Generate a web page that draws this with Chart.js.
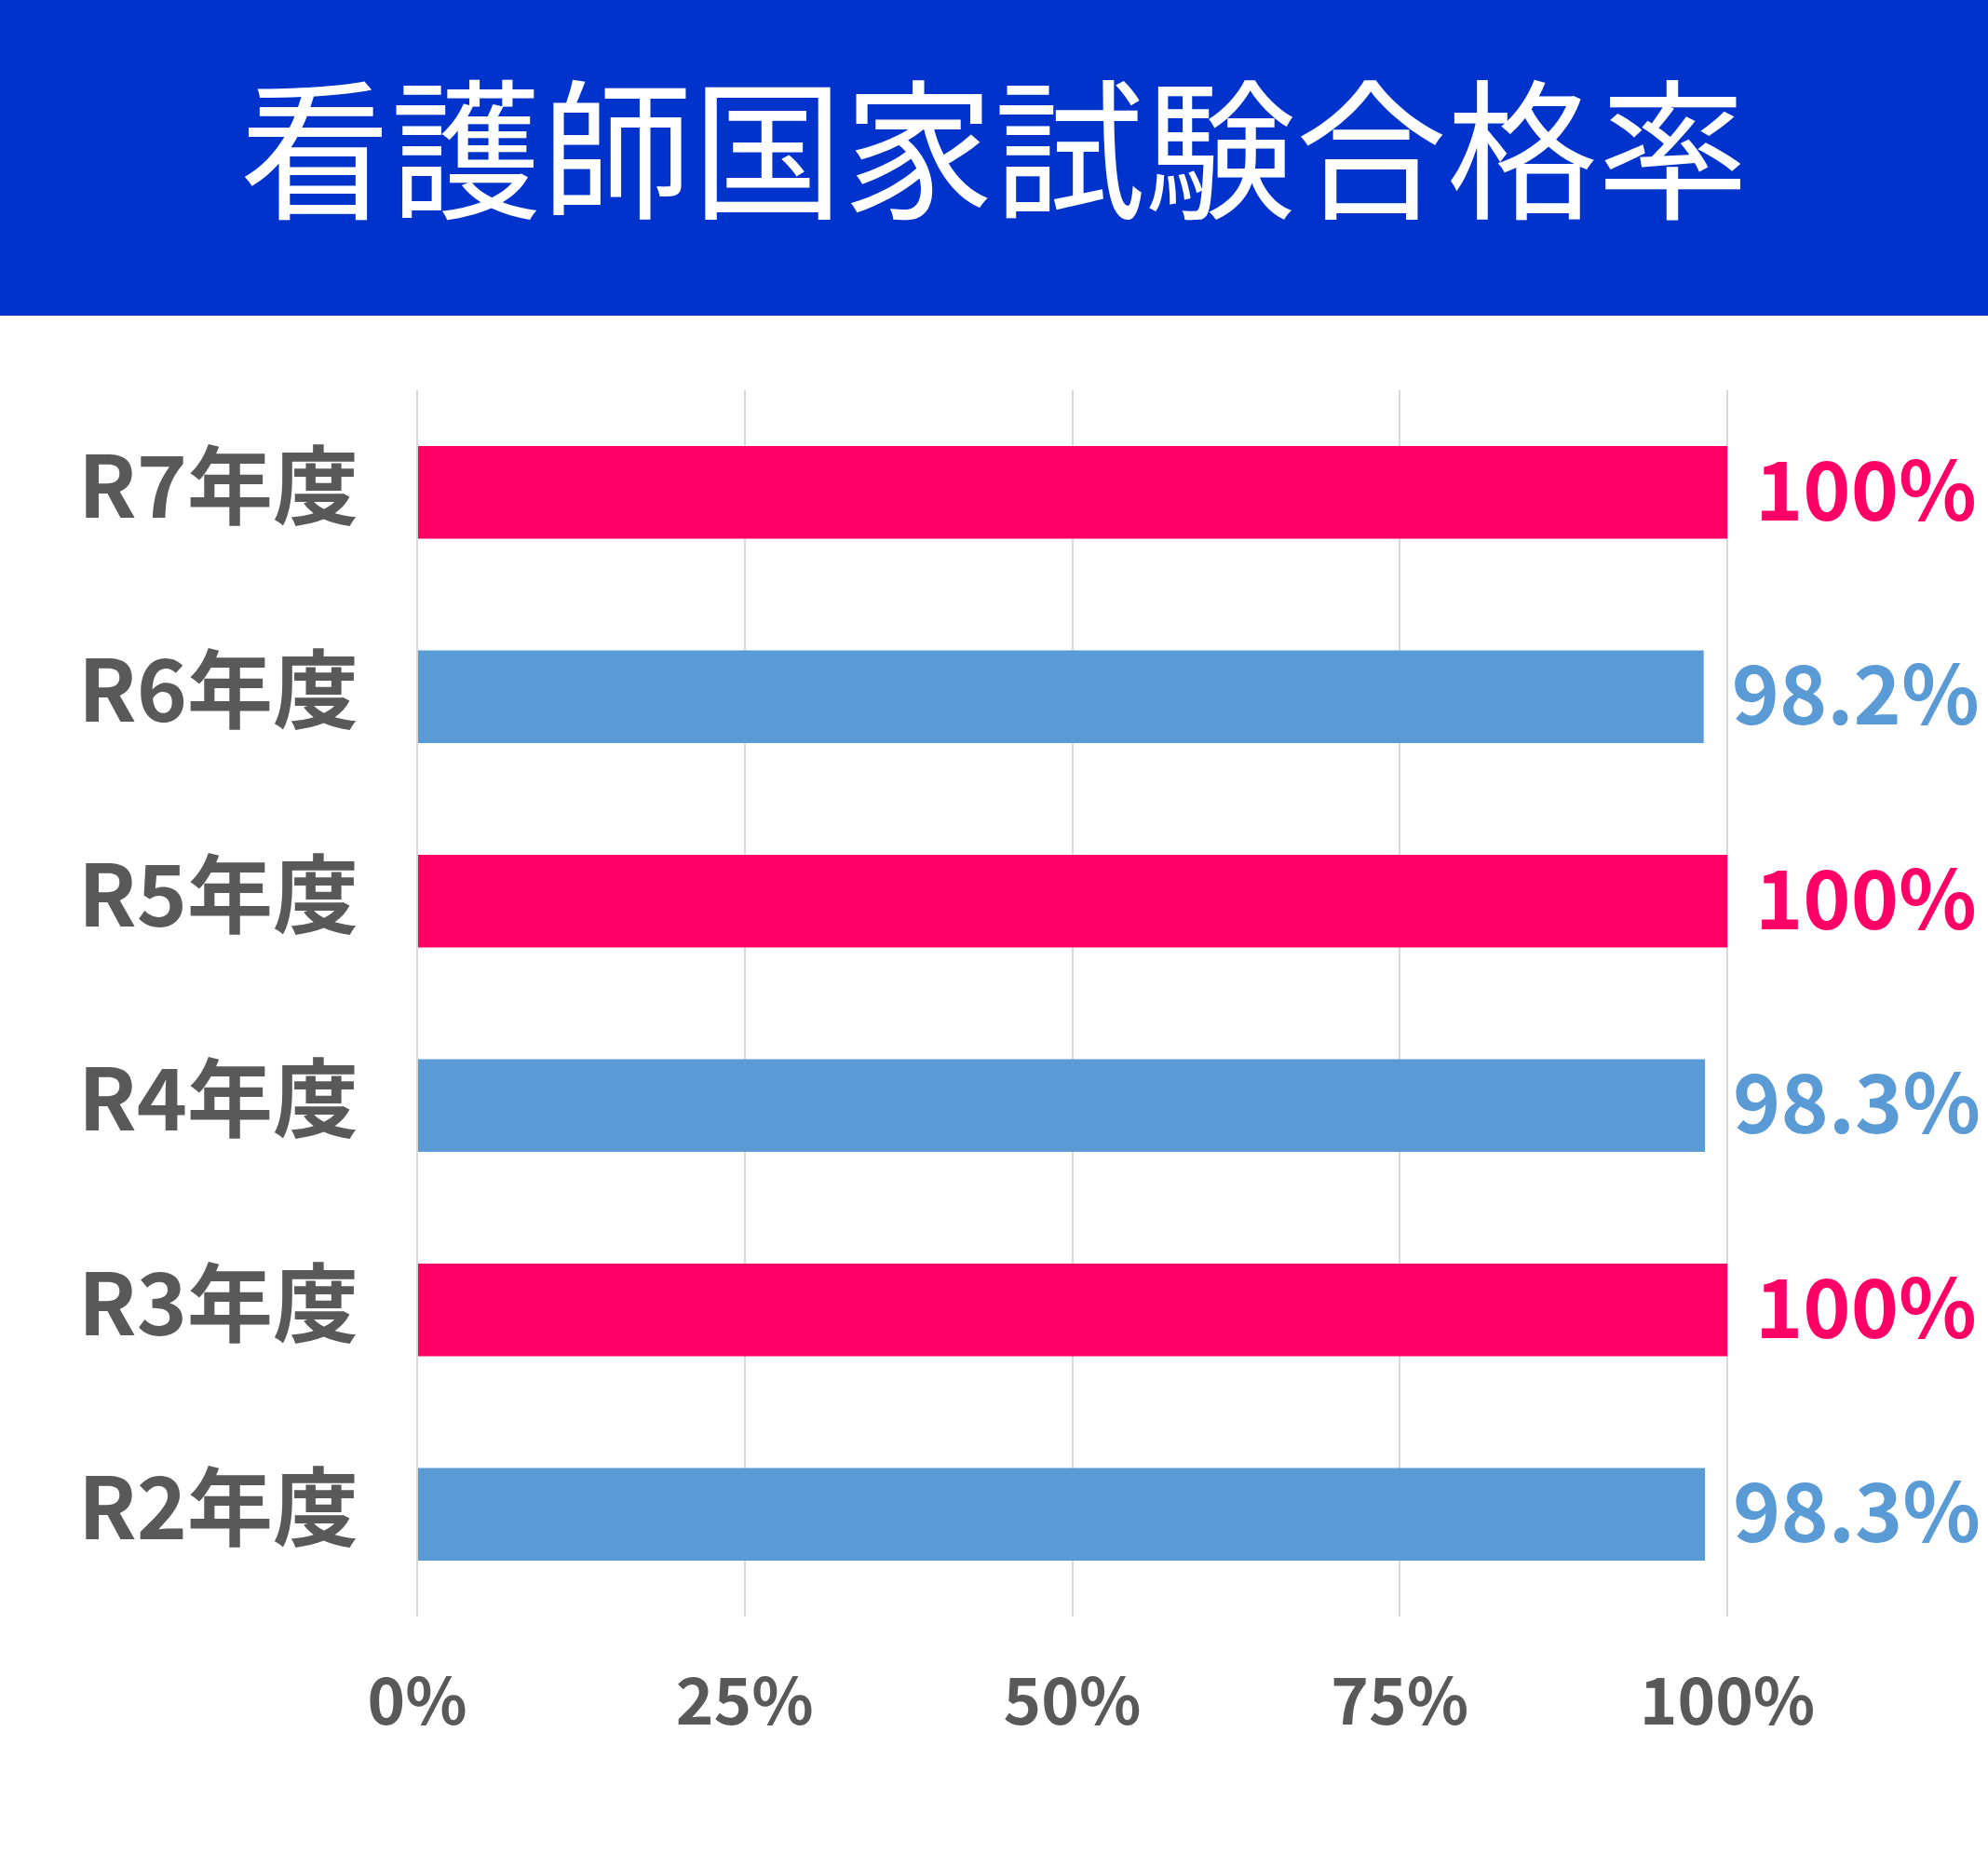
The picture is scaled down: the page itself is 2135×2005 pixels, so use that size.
<!DOCTYPE html>
<html><head><meta charset="utf-8">
<script src="https://cdn.jsdelivr.net/npm/chart.js@4"></script>
<style>
html,body{margin:0;padding:0;background:#fff;overflow:hidden;}
#hdr{width:2135px;height:339px;background:#0033CC;color:#fff;font-family:"Noto Sans CJK JP";font-size:162px;line-height:306px;text-align:center;white-space:nowrap;overflow:hidden;}
#wrap{width:2135px;height:1666px;}
canvas{display:block;}
</style></head><body>
<div id="hdr">看護師国家試験合格率</div>
<div id="wrap"><canvas id="c" width="2135" height="1666"></canvas></div>
<script>
const categories = ['R7年度','R6年度','R5年度','R4年度','R3年度','R2年度'];
const passRates = [100, 98.2, 100, 98.3, 100, 98.3];
const valueLabels = ['100%','98.2%','100%','98.3%','100%','98.3%'];
const tickLabels = ['0%','25%','50%','75%','100%'];
const barColors = ['#FF0066','#5B9BD5','#FF0066','#5B9BD5','#FF0066','#5B9BD5'];

const valueLabelPlugin = {
  id: 'valueLabels',
  afterDatasetsDraw(chart) {
    const ctx = chart.ctx;
    const meta = chart.getDatasetMeta(0);
    ctx.save();
    ctx.font = 'bold 87px "Noto Sans CJK JP"';
    ctx.textAlign = 'left';
    ctx.textBaseline = 'middle';
    meta.data.forEach((bar, i) => {
      ctx.fillStyle = barColors[i];
      ctx.fillText(valueLabels[i], bar.x + 30, bar.y - 3);
    });
    ctx.restore();
  }
};

new Chart(document.getElementById('c'), {
  type: 'bar',
  data: {
    labels: categories,
    datasets: [{
      data: passRates,
      backgroundColor: barColors,
      borderWidth: 0,
      categoryPercentage: 0.4535,
      barPercentage: 1.0
    }]
  },
  options: {
    indexAxis: 'y',
    responsive: false,
    animation: false,
    devicePixelRatio: 1,
    layout: { padding: { top: 80, right: 280, bottom: 0, left: 0 } },
    plugins: { legend: { display: false }, tooltip: { enabled: false } },
    scales: {
      x: {
        min: 0, max: 100,
        ticks: {
          stepSize: 25,
          padding: 48,
          color: '#595959',
          font: { family: 'Noto Sans CJK JP', size: 69, weight: 'bold' },
          callback: (v, i) => tickLabels[i]
        },
        grid: { color: '#D9D9D9', lineWidth: 2, drawTicks: false },
        border: { display: false },
        afterFit(scale) { scale.height = 269; scale.paddingLeft = 0; scale.paddingRight = 0; }
      },
      y: {
        ticks: {
          padding: 63,
          labelOffset: -8,
          color: '#595959',
          font: { family: 'Noto Sans CJK JP', size: 92, weight: 'bold' }
        },
        grid: { display: false, drawTicks: false },
        border: { display: false },
        afterFit(scale) { scale.width = 448; scale.paddingTop = 0; scale.paddingBottom = 0; }
      }
    }
  },
  plugins: [valueLabelPlugin]
});
</script>
</body></html>
